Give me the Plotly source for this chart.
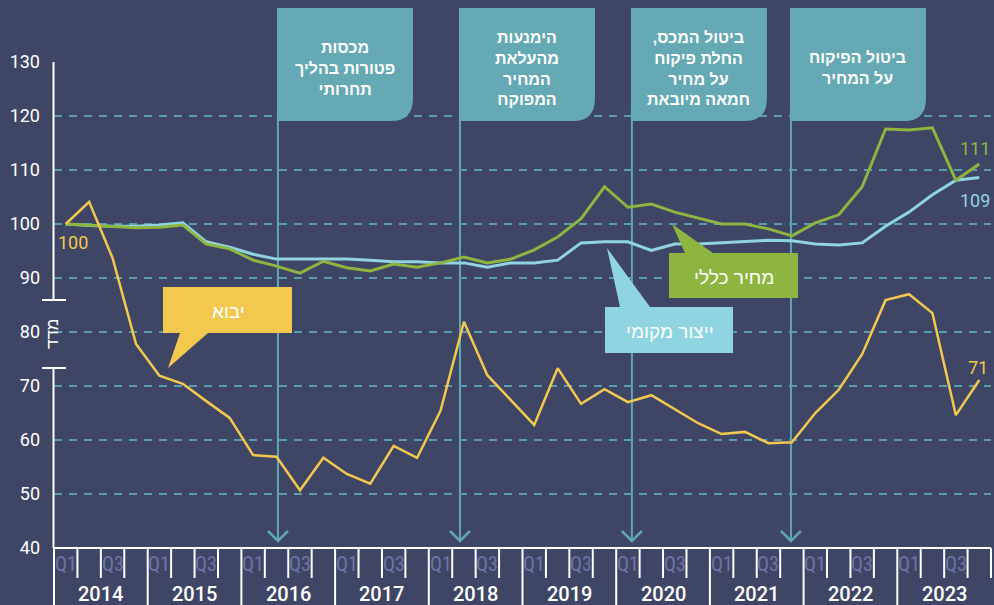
import plotly.graph_objects as go

# ---------------- data ----------------
years = ["2014", "2015", "2016", "2017", "2018", "2019", "2020", "2021", "2022", "2023"]
quarter_labels = ["Q1", "", "Q3", ""]
y_ticks = [40, 50, 60, 70, 80, 90, 100, 110, 120, 130]

import_index = [100, 104.1, 93.7, 77.8, 71.9, 70.4, 67.2, 64.1, 57.2, 56.9,
                50.7, 56.7, 53.7, 51.9, 58.9, 56.7, 65.4, 81.9, 72.0, 67.4,
                62.8, 73.3, 66.7, 69.4, 67.0, 68.3, 65.7, 63.1, 61.1, 61.5,
                59.4, 59.6, 65.0, 69.3, 75.9, 85.9, 87.0, 83.5, 64.6, 71.1]
general_price = [100, 99.8, 99.6, 99.3, 99.4, 99.8, 96.3, 95.4, 93.3, 92.2,
                 90.9, 93.1, 91.9, 91.3, 92.6, 92.0, 92.8, 93.9, 92.8, 93.5,
                 95.2, 97.6, 101.0, 106.9, 103.1, 103.7, 102.2, 101.1, 100.0, 100.0,
                 99.1, 97.8, 100.2, 101.7, 106.9, 117.6, 117.4, 117.8, 108.1, 111.1]
local_production = [100, 99.7, 99.6, 99.6, 99.8, 100.2, 96.7, 95.7, 94.4, 93.5,
                    93.5, 93.5, 93.5, 93.3, 93.0, 93.0, 92.8, 92.8, 92.0, 92.8,
                    92.8, 93.3, 96.5, 96.7, 96.7, 95.1, 96.3, 96.3, 96.5, 96.7,
                    97.0, 96.9, 96.3, 96.1, 96.5, 99.6, 102.2, 105.4, 108.1, 108.6]

series_names = ["יבוא", "מחיר כללי", "ייצור מקומי"]
end_labels = ["71", "111", "109"]
start_label = "100"
axis_title = "מדד"

event_quarters = [9.06, 16.83, 24.17, 30.96]
event_texts = [
    "מכסות<br>פטורות בהליך<br>תחרותי",
    "הימנעות<br>מהעלאת<br>המחיר<br>המפוקח",
    "\u200fביטול המכס,\u200f<br>החלת פיקוח<br>על מחיר<br>חמאה מיובאת",
    "ביטול הפיקוח<br>על המחיר",
]

# ---------------- style ----------------
W, H = 994, 605
ML, MR, MT, MB = 54, 3, 62, 57
PW = W - ML - MR
PH = H - MT - MB
NQ = len(import_index)

BG = "#3f4565"
GRID = "#5a9db0"
YEL = "#f2c94e"
GRN = "#8db540"
BLU = "#8fd4e1"
TEAL = "#64a9b3"
TEAL_LINE = "#5fa8b1"
QCOL = "#6d75a6"
HEB = "Liberation Sans, DejaVu Sans, sans-serif"
NUM = "Roboto, Liberation Sans, sans-serif"


def px(x):
    return (x - ML) / PW


def py(y):
    return (H - MB - y) / PH


def qx(q):
    return ML + (q + 0.5) * PW / NQ


xs = list(range(NQ))

fig = go.Figure()
fig.add_trace(go.Scatter(x=xs, y=local_production, mode="lines",
                         line=dict(color=BLU, width=3), hoverinfo="skip"))
fig.add_trace(go.Scatter(x=xs, y=general_price, mode="lines",
                         line=dict(color=GRN, width=3), hoverinfo="skip"))
fig.add_trace(go.Scatter(x=xs, y=import_index, mode="lines",
                         line=dict(color=YEL, width=2.5), hoverinfo="skip"))

shapes = []
annotations = []

# y axis line with break
for (a, b) in [(62, 300), (368, 548)]:
    shapes.append(dict(type="line", xref="paper", yref="paper", x0=px(53.5), x1=px(53.5),
                       y0=py(a), y1=py(b), line=dict(color="white", width=2), layer="above"))
for yy in (300, 368):
    shapes.append(dict(type="line", xref="paper", yref="paper", x0=px(42), x1=px(66),
                       y0=py(yy), y1=py(yy), line=dict(color="white", width=2), layer="above"))
annotations.append(dict(xref="paper", yref="paper", x=px(52), y=py(334), text=axis_title,
                        showarrow=False, textangle=-90, xanchor="center", yanchor="middle",
                        font=dict(family=HEB, size=17, color="white")))

# x axis line and category grid
shapes.append(dict(type="line", xref="paper", yref="paper", x0=px(53), x1=px(991),
                   y0=py(548), y1=py(548), line=dict(color="white", width=2), layer="above"))
for k in range(NQ + 1):
    xk = ML + k * PW / NQ
    bottom = 605 if (k % 4 == 0 and k < NQ) else 578
    shapes.append(dict(type="line", xref="paper", yref="paper", x0=px(xk), x1=px(xk),
                       y0=py(548), y1=py(bottom), line=dict(color="white", width=2), layer="above"))
for q in range(NQ):
    lab = quarter_labels[q % 4]
    if lab:
        annotations.append(dict(xref="paper", yref="paper", x=px(qx(q)), y=py(564), text=lab,
                                showarrow=False, xanchor="center", yanchor="middle",
                                font=dict(family="Liberation Sans Narrow, Roboto Condensed, Roboto",
                                          size=20, color=QCOL)))
for i, yr in enumerate(years):
    annotations.append(dict(xref="paper", yref="paper", x=px(qx(i * 4 + 1.5)), y=py(594), text=yr,
                            showarrow=False, xanchor="center", yanchor="middle",
                            font=dict(family=NUM, size=20, color="white", weight=500)))

# event lines, arrows, boxes
for q, txt in zip(event_quarters, event_texts):
    ex = qx(q)
    shapes.append(dict(type="line", xref="paper", yref="paper", x0=px(ex), x1=px(ex),
                       y0=py(110), y1=py(541), line=dict(color=TEAL_LINE, width=2), layer="below"))
    shapes.append(dict(type="path", xref="paper", yref="paper",
                       path=f"M{px(ex-10)},{py(531)} L{px(ex)},{py(541)} L{px(ex+10)},{py(531)}",
                       line=dict(color=TEAL_LINE, width=2.5), layer="below"))
    x0, x1 = px(ex - 1), px(ex + 135)
    yt, yb = py(8), py(121)
    rx, ry = 22 / PW, 22 / PH
    shapes.append(dict(type="path", xref="paper", yref="paper",
                       path=(f"M{x0},{yt} L{x1},{yt} L{x1},{yb+ry} Q{x1},{yb} {x1-rx},{yb} "
                             f"L{x0},{yb} Z"),
                       fillcolor=TEAL, line=dict(width=0), layer="above"))
    annotations.append(dict(xref="paper", yref="paper", x=px(ex + 67), y=py(68), text=txt,
                            showarrow=False, xanchor="center", yanchor="middle", align="center",
                            font=dict(family=HEB, size=16, color="white", weight="bold")))

# callouts
def poly(pts):
    return "M" + " L".join(f"{px(a)},{py(b)}" for a, b in pts) + " Z"

callouts = [
    (YEL, [(163, 287), (292, 287), (292, 333), (208, 333), (168, 368), (180, 333), (163, 333)], (228, 311)),
    (GRN, [(669, 253), (685, 253), (672, 224), (713, 253), (798, 253), (798, 298), (669, 298)], (734, 277)),
    (BLU, [(605, 307), (620, 307), (607, 248), (650, 307), (733, 307), (733, 353), (605, 353)], (670, 331)),
]
for (col, pts, (tx, ty)), name in zip(callouts, series_names):
    shapes.append(dict(type="path", xref="paper", yref="paper", path=poly(pts),
                       fillcolor=col, line=dict(width=0), layer="above"))
    annotations.append(dict(xref="paper", yref="paper", x=px(tx), y=py(ty), text=name,
                            showarrow=False, xanchor="center", yanchor="middle",
                            font=dict(family=HEB, size=19, color="white")))

# end labels
annotations.append(dict(xref="paper", yref="paper", x=px(72.5), y=py(242), text=start_label,
                        showarrow=False, xanchor="center", yanchor="middle",
                        font=dict(family=NUM, size=18, color=YEL)))
for txt, col, (tx, ty) in zip(end_labels, [YEL, GRN, BLU], [(977.5, 367), (974.5, 148), (974.5, 200)]):
    annotations.append(dict(xref="paper", yref="paper", x=px(tx), y=py(ty), text=txt,
                            showarrow=False, xanchor="center", yanchor="middle",
                            font=dict(family=NUM, size=18, color=col)))

fig.update_layout(
    width=W, height=H,
    margin=dict(l=ML, r=MR, t=MT, b=MB, pad=0),
    paper_bgcolor=BG, plot_bgcolor="rgba(0,0,0,0)",
    showlegend=False,
    xaxis=dict(range=[-0.5, NQ - 0.5], showgrid=False, showticklabels=False,
               zeroline=False, showline=False, fixedrange=True),
    yaxis=dict(range=[40, 130], tickvals=y_ticks, showgrid=True, gridcolor=GRID,
               gridwidth=1.5, griddash="8px,7px", zeroline=False, showline=False,
               ticks="", ticklabelstandoff=13,
               tickfont=dict(family=NUM, size=18, color="white"), fixedrange=True),
    shapes=shapes,
    annotations=annotations,
)

fig.write_html("out.html", config={"displayModeBar": False},
               post_script="document.body.style.margin='0';document.body.style.overflow='hidden';")
